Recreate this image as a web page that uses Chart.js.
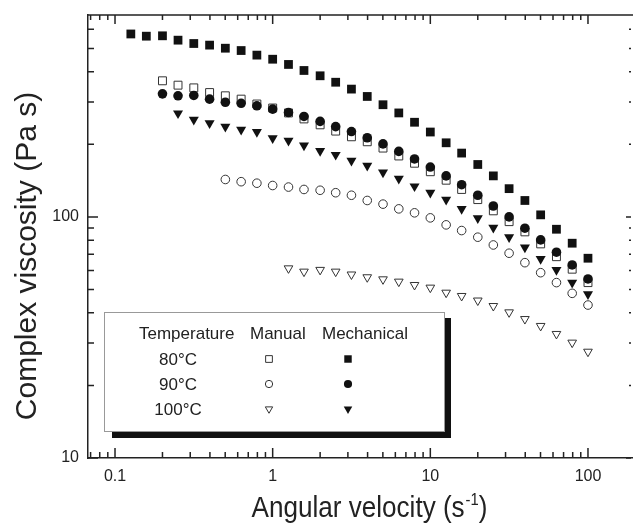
<!DOCTYPE html>
<html>
<head>
<meta charset="utf-8">
<script src="https://cdn.jsdelivr.net/npm/chart.js@4.4.1/dist/chart.umd.min.js"></script>
<style>
  html, body { margin: 0; padding: 0; background: #fff; }
</style>
</head>
<body>
<canvas id="chart" width="633" height="528"></canvas>
<script>
// angular velocity (s^-1), 10 points per decade
const freq = [0.126, 0.158, 0.2, 0.251, 0.316, 0.398, 0.501, 0.631, 0.794, 1,
              1.26, 1.58, 2, 2.51, 3.16, 3.98, 5.01, 6.31, 7.94, 10,
              12.6, 15.8, 20, 25.1, 31.6, 39.8, 50.1, 63.1, 79.4, 100];

// complex viscosity (Pa s); every series ends at 100 s^-1
const mech80 = [574, 562, 564, 541, 524, 516, 501, 490, 469, 451, 429, 405, 385, 362, 339,
                316, 292, 270, 247, 225, 203, 184, 165, 148, 131, 117, 102, 88.9, 77.8, 67.4];
const man80 = [367, 352, 343, 328, 318, 308, 294, 283, 270, 255, 241, 227, 215, 205,
               193, 179, 167, 154, 142, 130, 118, 106, 95.6, 86.7, 77.3, 68.4, 60.7, 53.4];
const mech90 = [324, 318, 319, 308, 299, 296, 289, 280, 271, 261, 249, 237, 226, 213,
                201, 187, 174, 161, 148, 136, 123, 111, 100, 89.8, 80.3, 71.4, 63.2, 55.3];
const man90 = [143, 140, 138, 135, 133, 130, 129, 126, 123, 117, 113, 108,
               104, 99.1, 92.7, 87.8, 82.4, 76.5, 70.7, 64.6, 58.7, 53.4, 48.2, 43.1];
const mech100 = [269, 253, 245, 237, 230, 225, 212, 207, 198, 188, 181, 171, 163, 153,
                 144, 134, 126, 118, 108, 98.8, 90.3, 82.4, 74.7, 67.0, 60.3, 53.4, 47.8];
const man100 = [61.2, 59.3, 60.3, 59.3, 57.7, 56.2, 55.1, 53.9, 52.2, 50.9,
                48.5, 47.0, 45.0, 42.7, 40.2, 37.7, 35.3, 32.7, 30.1, 27.6];

const xTickLabels = ['0.1', '1', '10', '100'];
const yTickLabels = ['10', '100'];
const legendHead = ['Temperature', 'Manual', 'Mechanical'];
const legendRows = ['80°C', '90°C', '100°C'];

const FONT = '"Liberation Sans", Arial, sans-serif';
const INK = '#222';

function pts(vals) {
  const off = freq.length - vals.length;
  return vals.map((v, i) => ({x: freq[off + i], y: v}));
}

function logTicks(min, max) {
  const out = [];
  for (let e = Math.floor(Math.log10(min)); e <= Math.ceil(Math.log10(max)); e++) {
    for (let m = 1; m <= 9; m++) {
      const v = m * Math.pow(10, e);
      if (v >= min && v <= max) out.push({value: v, major: m === 1});
    }
  }
  return out;
}

function labelFor(list, v) {
  const hit = list.find(s => Math.abs(parseFloat(s) - v) < 1e-9 * Math.max(1, v));
  return hit || '';
}

function filled(label, data, style, r, rot) {
  return {label, data: pts(data), pointStyle: style, pointRadius: r, pointHoverRadius: r,
          rotation: rot || 0, backgroundColor: '#111', borderColor: '#111', borderWidth: 0};
}
function open(label, data, style, r, rot) {
  return {label, data: pts(data), pointStyle: style, pointRadius: r, pointHoverRadius: r,
          rotation: rot || 0, backgroundColor: '#fff', borderColor: '#333', borderWidth: 1};
}

const datasets = [
  filled('80°C Mechanical', mech80, 'rect', 6.2),
  filled('90°C Mechanical', mech90, 'circle', 4.8),
  filled('100°C Mechanical', mech100, 'triangle', 5.8, 180),
  open('80°C Manual', man80, 'rect', 5.6),
  open('90°C Manual', man90, 'circle', 4.3),
  open('100°C Manual', man100, 'triangle', 5.0, 180)
];

const frame = {
  id: 'frame',
  afterDraw(chart) {
    const {ctx, chartArea: a, scales} = chart;
    const x = scales.x, y = scales.y;
    ctx.save();
    ctx.strokeStyle = INK;
    ctx.lineWidth = 1.5;
    ctx.beginPath();
    ctx.moveTo(a.left, a.top);
    ctx.lineTo(a.right, a.top);
    x.ticks.forEach(t => {
      const px = x.getPixelForValue(t.value);
      ctx.moveTo(px, a.bottom); ctx.lineTo(px, a.bottom - (t.major ? 10 : 6));
      ctx.moveTo(px, a.top); ctx.lineTo(px, a.top + (t.major ? 9 : 5));
    });
    y.ticks.forEach(t => {
      const py = y.getPixelForValue(t.value);
      ctx.moveTo(a.left, py); ctx.lineTo(a.left + (t.major ? 10 : 6), py);
      ctx.moveTo(a.right - 2, py); ctx.lineTo(a.right - (t.major ? 7 : 4), py);
    });
    ctx.stroke();

    // axis titles
    ctx.fillStyle = INK;
    ctx.textBaseline = 'alphabetic';
    ctx.save();
    ctx.font = '30px ' + FONT;
    const p1 = 'Angular velocity (s', p3 = ')';
    const w1 = ctx.measureText(p1).width, w3 = ctx.measureText(p3).width;
    ctx.font = '17px ' + FONT;
    const w2 = ctx.measureText('-1').width;
    const sx = 235 / (w1 + w2 + w3);
    ctx.translate(369 - 235 / 2, 517);
    ctx.scale(sx, 1);
    ctx.textAlign = 'left';
    ctx.font = '30px ' + FONT;
    ctx.fillText(p1, 0, 0);
    ctx.font = '17px ' + FONT;
    ctx.fillText('-1', w1 + 1, -12);
    ctx.font = '30px ' + FONT;
    ctx.fillText(p3, w1 + w2 + 1, 0);
    ctx.restore();

    ctx.save();
    ctx.translate(36, 256);
    ctx.rotate(-Math.PI / 2);
    ctx.textAlign = 'center';
    ctx.font = '30px ' + FONT;
    ctx.fillText('Complex viscosity (Pa s)', 0, 0);
    ctx.restore();

    // legend box with drop shadow
    ctx.fillStyle = '#111';
    ctx.fillRect(112, 318, 339, 120);
    ctx.fillStyle = '#fff';
    ctx.fillRect(104.5, 312.5, 340, 119);
    ctx.strokeStyle = '#999';
    ctx.lineWidth = 1;
    ctx.strokeRect(104.5, 312.5, 340, 119);

    ctx.fillStyle = INK;
    ctx.font = '17px ' + FONT;
    ctx.textAlign = 'left';
    ctx.fillText(legendHead[0], 139, 339);
    ctx.fillText(legendHead[1], 250, 339);
    ctx.fillText(legendHead[2], 322, 339);
    ctx.textAlign = 'center';
    legendRows.forEach((lab, i) => {
      const yy = 365 + i * 25;
      ctx.fillStyle = INK;
      ctx.fillText(lab, 178, yy);
      [[datasets[3 + i], 269], [datasets[i], 348]].forEach(([ds, mx]) => {
        ctx.fillStyle = ds.backgroundColor;
        ctx.strokeStyle = ds.borderColor;
        ctx.lineWidth = ds.borderWidth;
        Chart.helpers.drawPoint(ctx, {
          pointStyle: ds.pointStyle, radius: ds.pointRadius * 0.85,
          rotation: ds.rotation, borderWidth: ds.borderWidth
        }, mx, yy - 6);
      });
    });
    ctx.restore();
  }
};

new Chart(document.getElementById('chart'), {
  type: 'scatter',
  data: {datasets},
  options: {
    responsive: false,
    animation: false,
    layout: {autoPadding: false, padding: {top: 15, right: 0, left: 0, bottom: 0}},
    plugins: {legend: {display: false}, tooltip: {enabled: false}},
    scales: {
      x: {
        type: 'logarithmic', min: 0.0674, max: 193,
        afterBuildTicks: s => { s.ticks = logTicks(0.0674, 193); },
        afterFit: s => { s.height = 70; s.paddingLeft = 0; s.paddingRight = 0; },
        grid: {display: false, drawTicks: false},
        border: {display: true, color: INK, width: 1.5},
        ticks: {autoSkip: false, maxRotation: 0, padding: 9, color: INK,
                font: {family: FONT, size: 16},
                callback: v => labelFor(xTickLabels, v)}
      },
      y: {
        type: 'logarithmic', min: 10, max: 688,
        afterBuildTicks: s => { s.ticks = logTicks(10, 688); },
        afterFit: s => { s.width = 88; s.paddingTop = 0; s.paddingBottom = 0; },
        grid: {display: false, drawTicks: false},
        border: {display: true, color: INK, width: 1.5},
        ticks: {autoSkip: false, padding: 9, color: INK,
                font: {family: FONT, size: 16},
                callback: v => labelFor(yTickLabels, v)}
      }
    }
  },
  plugins: [frame]
});
</script>
</body>
</html>
